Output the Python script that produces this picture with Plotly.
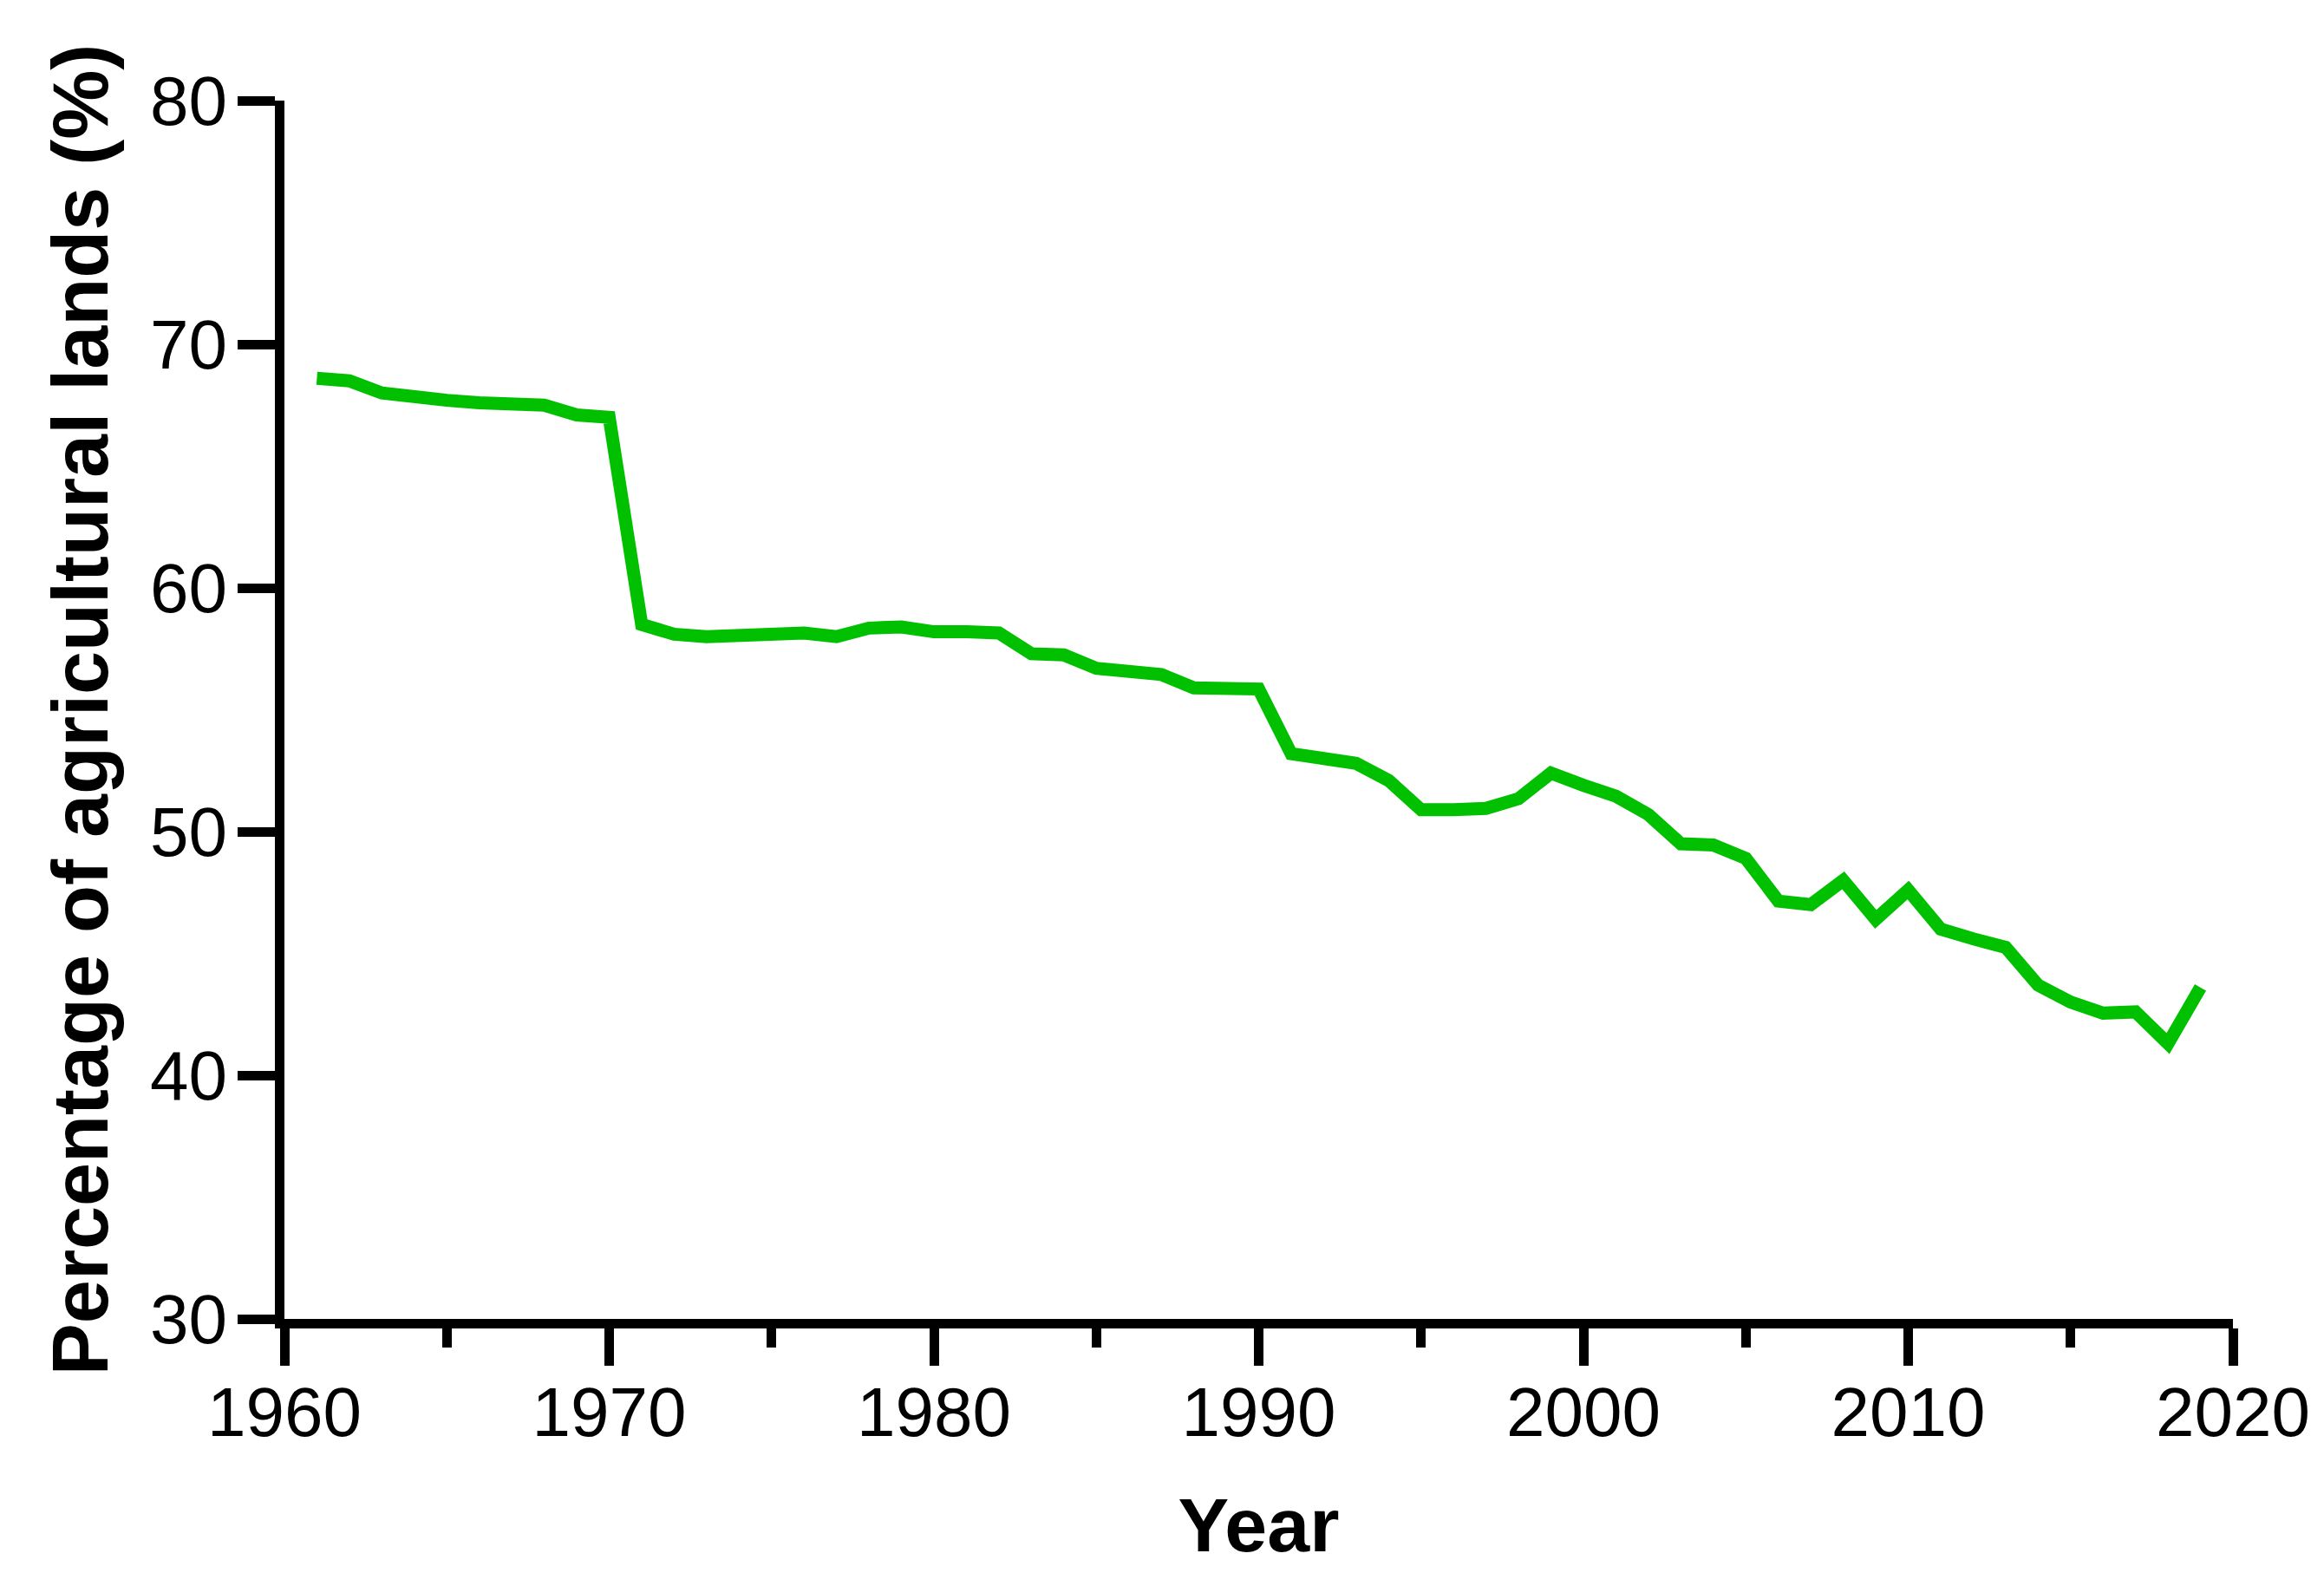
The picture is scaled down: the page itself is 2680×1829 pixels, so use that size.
import plotly.graph_objects as go

years = list(range(1961, 2020))
percent = [68.6, 68.5, 68.0, 67.8, 67.7, 67.6, 67.55, 67.5, 67.1, 67.0,
           58.5, 58.1, 58.0, 58.05, 58.1, 58.15, 58.0, 58.35, 58.4, 58.2,
           58.2, 58.15, 57.3, 57.25, 56.7, 56.55, 56.45, 55.9, 55.9, 55.85,
           53.2, 53.0, 52.8, 52.1, 50.9, 50.9, 50.95, 51.35, 52.4, 51.9,
           51.45, 50.7, 49.5, 49.45, 48.9, 47.15, 47.0, 48.0, 46.4, 47.6,
           46.0, 45.6, 45.25, 43.7, 43.0, 42.55, 42.6, 41.3, 43.6]

x_ticks = [1960, 1970, 1980, 1990, 2000, 2010, 2020]
y_ticks = [30, 40, 50, 60, 70, 80]

FONT = "Liberation Sans, Arial, sans-serif"

fig = go.Figure()
fig.add_trace(go.Scatter(
    x=years, y=percent, mode="lines",
    line=dict(color="rgb(0,192,0)", width=15),
    showlegend=False,
))

axis_common = dict(
    showline=True, linecolor="black", linewidth=11,
    ticks="outside", ticklen=43, tickwidth=11, tickcolor="black",
    showgrid=False, zeroline=False,
    tickfont=dict(family=FONT, size=80, color="black"),
)

fig.update_layout(
    width=2680, height=1829,
    margin=dict(l=320, r=113, t=108, b=316),
    paper_bgcolor="white", plot_bgcolor="white",
    xaxis=dict(
        range=[1960, 2020], tickvals=x_ticks,
        minor=dict(dtick=5, tick0=1960, ticks="outside", ticklen=22, tickwidth=11, tickcolor="black"),
        ticklabelstandoff=-15,
        title=dict(text="Year", font=dict(family=FONT, size=88, color="black", weight="bold"), standoff=60),
        **axis_common,
    ),
    yaxis=dict(
        range=[30, 80], tickvals=y_ticks,
        ticklabelstandoff=-4,
        title=dict(text="Percentage of agricultural lands (%)", font=dict(family=FONT, size=90, color="black", weight="bold"), standoff=23),
        **axis_common,
    ),
)

fig.write_html("out.html")
